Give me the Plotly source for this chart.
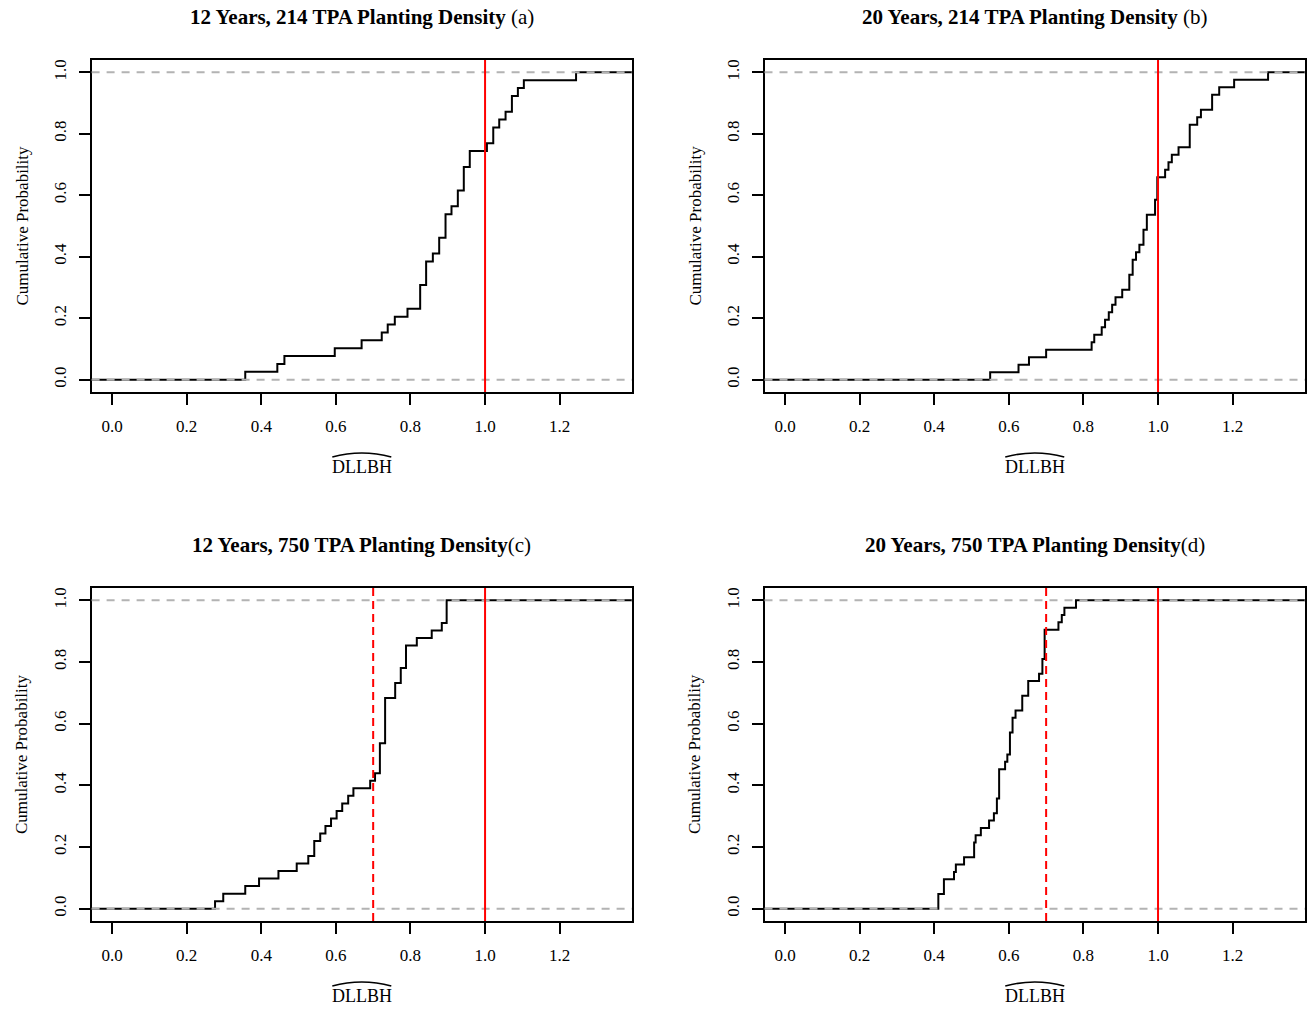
import numpy as np
import plotly.graph_objects as go

W, H = 1315, 1009

# ---------------- data ----------------
panel_titles = [
    ("12 Years, 214 TPA Planting Density ", "(a)"),
    ("20 Years, 214 TPA Planting Density ", "(b)"),
    ("12 Years, 750 TPA Planting Density", "(c)"),
    ("20 Years, 750 TPA Planting Density", "(d)"),
]

dllbh_a = [0.357, 0.443, 0.462, 0.597, 0.669, 0.723, 0.739, 0.758, 0.792,
           0.826, 0.826, 0.826, 0.842, 0.842, 0.842, 0.860, 0.877, 0.877,
           0.894, 0.894, 0.894, 0.910, 0.927, 0.927, 0.943, 0.943, 0.943,
           0.959, 0.959, 1.005, 1.022, 1.022, 1.038, 1.055, 1.072, 1.072,
           1.088, 1.104, 1.244]

dllbh_b = [0.550, 0.626, 0.654, 0.700, 0.822, 0.829, 0.849, 0.858, 0.868,
           0.877, 0.886, 0.904, 0.923, 0.923, 0.932, 0.932, 0.941, 0.950,
           0.961, 0.961, 0.970, 0.970, 0.992, 0.992, 0.998, 0.998, 0.998,
           1.019, 1.028, 1.037, 1.055, 1.085, 1.085, 1.085, 1.105, 1.115,
           1.145, 1.145, 1.164, 1.204, 1.295]

dllbh_c = [0.276, 0.298, 0.357, 0.394, 0.446, 0.495, 0.526, 0.542, 0.542,
           0.558, 0.572, 0.587, 0.602, 0.617, 0.633, 0.647, 0.692, 0.705,
           0.718, 0.718, 0.718, 0.718, 0.732, 0.732, 0.732, 0.732, 0.732,
           0.732, 0.759, 0.759, 0.774, 0.774, 0.788, 0.788, 0.788, 0.817,
           0.857, 0.884, 0.897, 0.897, 0.897]

dllbh_d = [0.411, 0.411, 0.426, 0.426, 0.453, 0.458, 0.480, 0.507, 0.507,
           0.511, 0.525, 0.547, 0.560, 0.568, 0.568, 0.574, 0.574, 0.574,
           0.574, 0.590, 0.596, 0.603, 0.603, 0.603, 0.610, 0.610, 0.618,
           0.636, 0.636, 0.652, 0.652, 0.681, 0.690, 0.690, 0.696, 0.696,
           0.696, 0.696, 0.733, 0.742, 0.749, 0.780]

samples = [dllbh_a, dllbh_b, dllbh_c, dllbh_d]
ref_solid = [1.0, 1.0, 1.0, 1.0]
ref_dashed = [None, None, 0.7, 0.7]

x_ticks = [0.0, 0.2, 0.4, 0.6, 0.8, 1.0, 1.2]
y_ticks = [0.0, 0.2, 0.4, 0.6, 0.8, 1.0]
x_title = "DLLBH"
y_title = "Cumulative Probability"

# ---------------- layout geometry (pixels) ----------------
X_RANGE = [-0.055, 1.394]
Y_RANGE = [-0.04, 1.04]
boxes = [  # (left, right, top, bottom) in pixels
    (91.6, 632.0, 60.0, 392.0),
    (764.5, 1305.0, 60.0, 392.0),
    (91.6, 632.0, 588.0, 921.0),
    (764.5, 1305.0, 588.0, 921.0),
]

def px(x):
    return x / W

def py(y):
    return 1 - y / H

FONT = "Liberation Serif, Times New Roman, serif"

fig = go.Figure()
layout = dict(
    width=W, height=H,
    margin=dict(l=0, r=0, t=0, b=0),
    paper_bgcolor="white", plot_bgcolor="white",
    showlegend=False,
    font=dict(family=FONT, color="black", size=17),
)
shapes = []
annotations = []

for i, (vals, box) in enumerate(zip(samples, boxes)):
    k = "" if i == 0 else str(i + 1)
    xa, ya = "x" + k, "y" + k
    left, right, top, bottom = box

    v = np.sort(np.asarray(vals, dtype=float))
    uniq, counts = np.unique(v, return_counts=True)
    F = np.cumsum(counts) / len(v)
    xs = np.concatenate([[X_RANGE[0]], uniq, [X_RANGE[1]]])
    ys = np.concatenate([[0.0], F, [1.0]])

    fig.add_trace(go.Scatter(
        x=xs, y=ys, mode="lines", line=dict(color="black", width=2, shape="hv"),
        xaxis=xa, yaxis=ya, hoverinfo="skip"))

    axis_common = dict(
        showline=True, mirror=True, linecolor="black", linewidth=1.5,
        ticks="outside", ticklen=11, tickwidth=1.5, tickcolor="black",
        showgrid=False, zeroline=False,
        tickfont=dict(family=FONT, size=17, color="black"),
    )
    layout["xaxis" + k] = dict(
        axis_common, domain=[px(left), px(right)], range=X_RANGE,
        tickvals=x_ticks, ticktext=[f"{t:.1f}" for t in x_ticks],
        anchor=ya, ticklabelstandoff=7)
    layout["yaxis" + k] = dict(
        axis_common, domain=[py(bottom), py(top)], range=Y_RANGE,
        tickvals=y_ticks, ticktext=[f"{t:.1f}" for t in y_ticks],
        tickangle=-90, anchor=xa, ticklabelstandoff=6)

    # gray dashed horizontal reference lines at 0 and 1
    for hv in (0.0, 1.0):
        shapes.append(dict(
            type="line", xref=xa + " domain", yref=ya, x0=0, x1=1, y0=hv, y1=hv,
            line=dict(color="#b3b3b3", width=2, dash="8px,7px"), layer="above"))
    # red vertical lines
    shapes.append(dict(
        type="line", xref=xa, yref=ya + " domain", x0=ref_solid[i], x1=ref_solid[i],
        y0=0, y1=1, line=dict(color="#ff0000", width=2), layer="above"))
    if ref_dashed[i] is not None:
        shapes.append(dict(
            type="line", xref=xa, yref=ya + " domain", x0=ref_dashed[i], x1=ref_dashed[i],
            y0=0, y1=1, line=dict(color="#ff0000", width=2, dash="8px,5px"), layer="above"))

    cx = (left + right) / 2
    # panel title
    t_bold, t_tag = panel_titles[i]
    annotations.append(dict(
        text=f"<b>{t_bold}</b>{t_tag}", xref="paper", yref="paper",
        x=px(cx), y=py(top - 43), xanchor="center", yanchor="middle",
        showarrow=False, font=dict(family=FONT, size=21, color="black")))
    # x-axis title with wide hat
    annotations.append(dict(
        text=x_title, xref="paper", yref="paper",
        x=px(cx), y=py(bottom + 75), xanchor="center", yanchor="middle",
        showarrow=False, font=dict(family=FONT, size=18, color="black")))
    hx0, hx1, hy = cx - 29.5, cx + 29.5, bottom + 65
    shapes.append(dict(
        type="path", xref="paper", yref="paper",
        path=(f"M {px(hx0):.5f},{py(hy):.5f} "
              f"Q {px(cx):.5f},{py(hy - 8):.5f} {px(hx1):.5f},{py(hy):.5f}"),
        line=dict(color="black", width=1.5)))
    # y-axis title
    annotations.append(dict(
        text=y_title, xref="paper", yref="paper",
        x=px(left - 70), y=py((top + bottom) / 2), xanchor="center", yanchor="middle",
        textangle=-90, showarrow=False, font=dict(family=FONT, size=17, color="black")))

layout["shapes"] = shapes
layout["annotations"] = annotations
fig.update_layout(**layout)
fig.write_html(
    "out.html",
    config={"displayModeBar": False},
    post_script="document.body.style.margin='0';document.body.style.overflow='hidden';",
)
